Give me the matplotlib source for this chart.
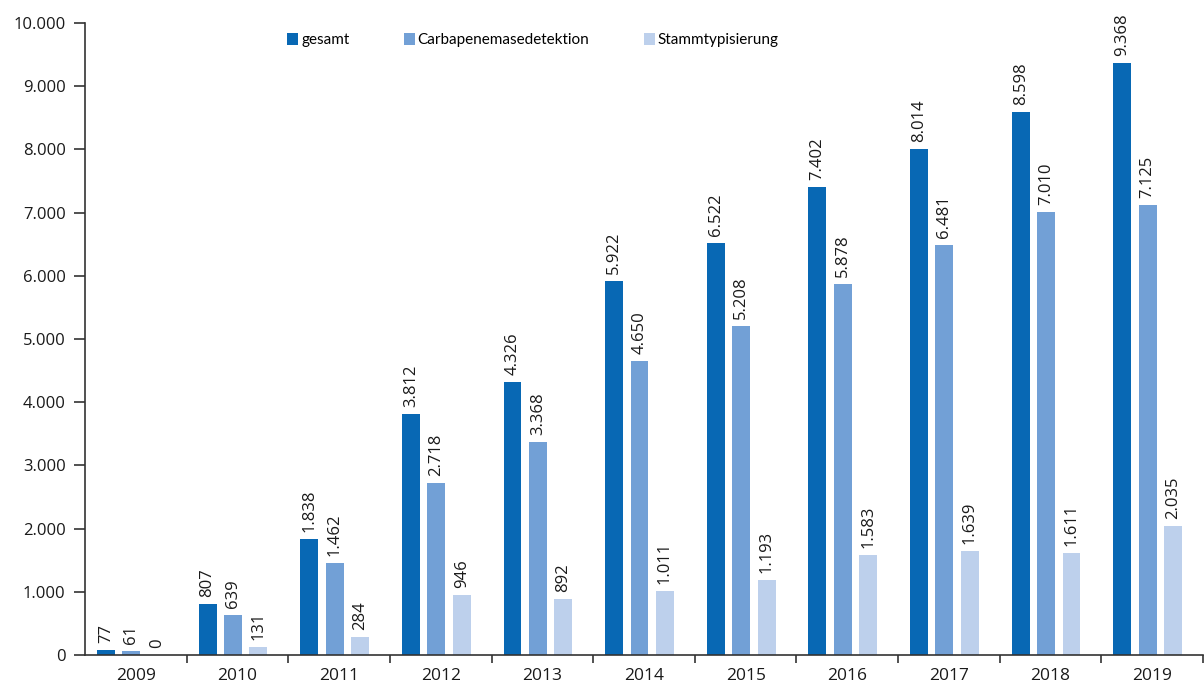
import matplotlib
matplotlib.use("Agg")
import matplotlib.pyplot as plt
import numpy as np
from matplotlib.ticker import FuncFormatter, FixedLocator

years = ["2009", "2010", "2011", "2012", "2013", "2014", "2015", "2016", "2017", "2018", "2019"]
gesamt = [77, 807, 1838, 3812, 4326, 5922, 6522, 7402, 8014, 8598, 9368]
carbapenemase = [61, 639, 1462, 2718, 3368, 4650, 5208, 5878, 6481, 7010, 7125]
stammtyp = [0, 131, 284, 946, 892, 1011, 1193, 1583, 1639, 1611, 2035]
series_names = ["gesamt", "Carbapenemasedetektion", "Stammtypisierung"]
colors = ["#0868B4", "#72A0D6", "#BDD0EC"]

plt.rcParams['font.family'] = ['Open Sans', 'DejaVu Sans']

fig = plt.figure(figsize=(12.04, 6.89), dpi=100)
ax = fig.add_axes([85/1204, 34/689, 1118/1204, 632/689])

x = np.arange(len(years))
offsets = [-0.294, -0.044, 0.206]
width = 0.176

def fmt(v):
    return f"{int(v):,}".replace(",", ".")

handles = []
for vals, off, col, name in zip([gesamt, carbapenemase, stammtyp], offsets, colors, series_names):
    bars = ax.bar(x + off, vals, width=width, color=col, label=name)
    handles.append(bars)
    for xi, v in zip(x + off, vals):
        ax.annotate(fmt(v), (xi, v), xytext=(0, 5), textcoords="offset points",
                    rotation=90, ha="center", va="bottom", fontsize=12, color="#1a1a1a")

ax.set_xlim(-0.5, len(years) - 0.5)
ax.set_ylim(0, 10000)
ax.set_yticks(np.arange(0, 10001, 1000))
ax.yaxis.set_major_formatter(FuncFormatter(lambda v, p: fmt(v)))
ax.set_xticks(x)
ax.set_xticklabels(years)
ax.xaxis.set_minor_locator(FixedLocator(np.arange(0.5, len(years), 1.0)))
ax.tick_params(axis='x', which='major', length=0, pad=9, labelsize=12.5, colors="#1a1a1a")
ax.tick_params(axis='x', which='minor', length=6, width=1.2, color="#333333")
ax.tick_params(axis='y', length=8, width=1.2, color="#333333", labelsize=12, labelcolor="#1a1a1a", pad=6)

for s in ["top", "right"]:
    ax.spines[s].set_visible(False)
for s in ["left", "bottom"]:
    ax.spines[s].set_color("#333333")
    ax.spines[s].set_linewidth(1.2)

leg = ax.legend(handles=handles, labels=series_names, loc="upper left",
                bbox_to_anchor=(196/1118, 0.994), ncol=3, frameon=False,
                prop={'family': ['Lato', 'DejaVu Sans'], 'size': 11},
                handlelength=0.72, handleheight=0.85, handletextpad=0.2, columnspacing=3.55,
                borderaxespad=0.0)

fig.savefig("out.png", dpi=100)
